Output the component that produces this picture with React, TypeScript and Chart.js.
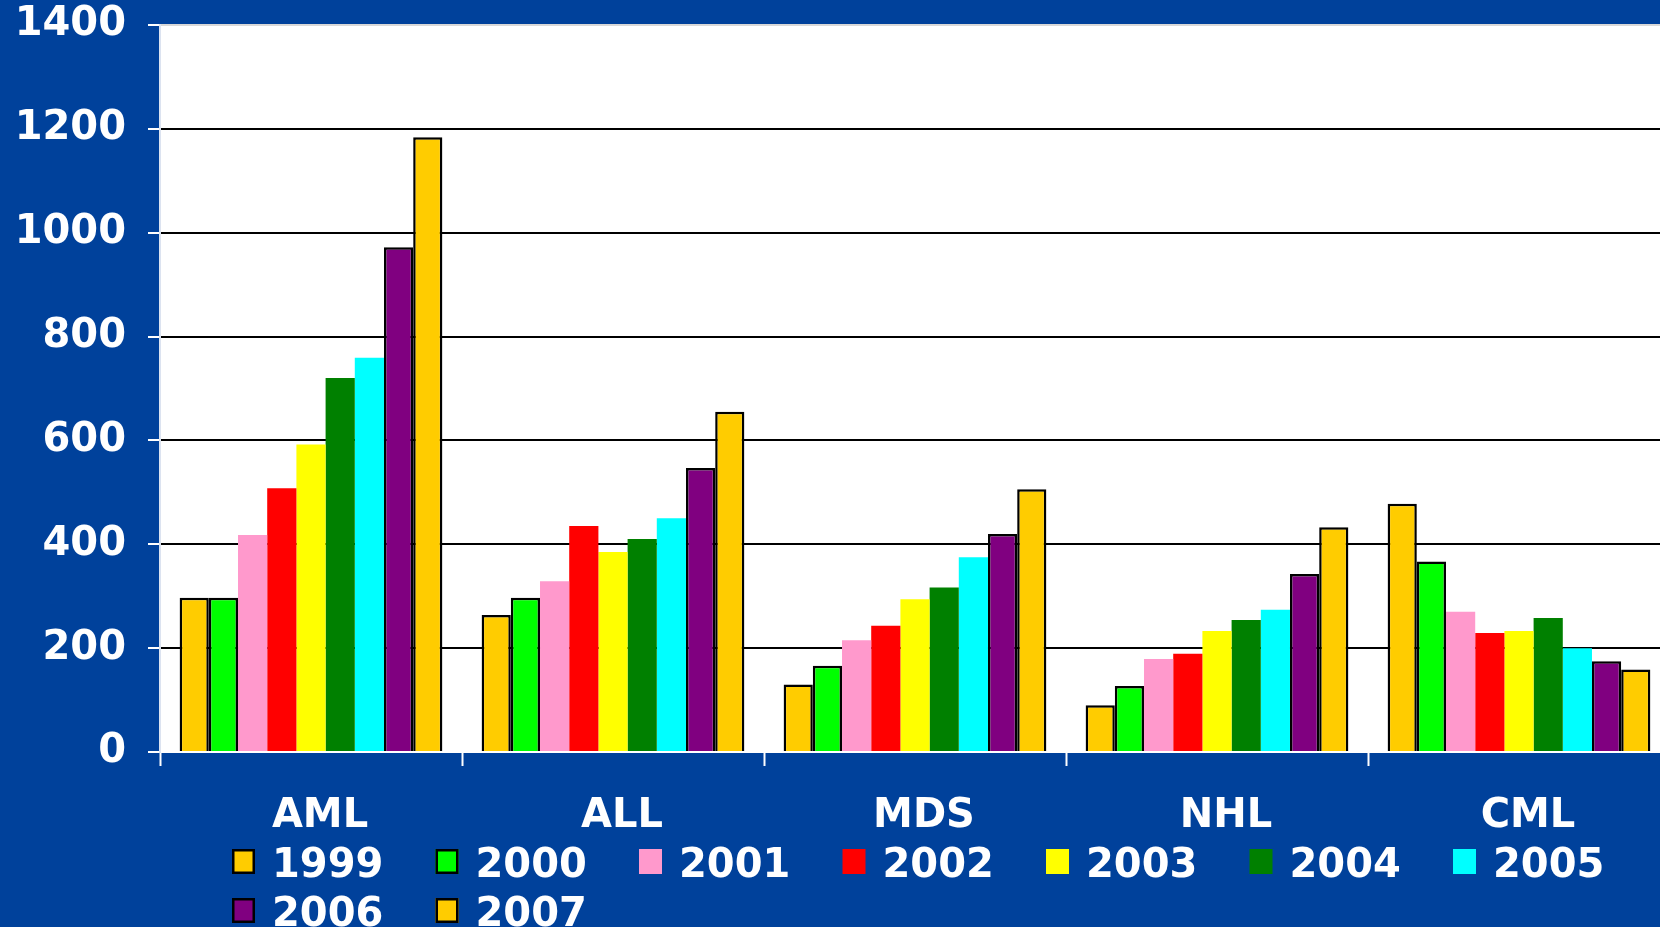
import React, { useEffect, useRef } from 'react';
import { Chart, registerables } from 'chart.js';

Chart.register(...registerables);

const categories = ['AML', 'ALL', 'MDS', 'NHL', 'CML'];
const years = ['1999', '2000', '2001', '2002', '2003', '2004', '2005', '2006', '2007'];

const v1999 = [297, 264, 130, 90, 478];
const v2000 = [297, 297, 166, 127, 367];
const v2001 = [418, 329, 215, 179, 270];
const v2002 = [508, 435, 243, 189, 229];
const v2003 = [592, 385, 294, 233, 233];
const v2004 = [720, 410, 317, 254, 258];
const v2005 = [759, 450, 375, 274, 200];
const v2006 = [972, 547, 420, 343, 175];
const v2007 = [1184, 655, 506, 433, 159];

const seriesValues = [v1999, v2000, v2001, v2002, v2003, v2004, v2005, v2006, v2007];
const seriesColors = ['#FFCC00', '#00FF00', '#FF99CC', '#FF0000', '#FFFF00', '#008000', '#00FFFF', '#800080', '#FFCC00'];
const seriesBordered = [true, true, false, false, false, false, false, true, true];

const yTicks = [0, 200, 400, 600, 800, 1000, 1200, 1400];

const NAVY = '#00419B';
const FONT = "'DejaVu Sans', Verdana, sans-serif";

const bgPlugin = {
  id: 'bgPlugin',
  beforeDraw(chart: any) {
    const { ctx, chartArea } = chart;
    ctx.save();
    ctx.fillStyle = NAVY;
    ctx.fillRect(0, 0, chart.width, chart.height);
    ctx.fillStyle = '#FFFFFF';
    ctx.fillRect(chartArea.left, chartArea.top, chartArea.right - chartArea.left, chartArea.bottom - chartArea.top);
    ctx.restore();
  },
};

const legendPlugin = {
  id: 'rowLegend',
  afterDraw(chart: any) {
    const { ctx, chartArea } = chart;
    const perRow = 7;
    const startX = chartArea.left + 72;
    const stepX = 203.5;
    const firstTop = chartArea.bottom + 97;
    const stepY = 49;
    const boxW = 23;
    const boxH = 25;
    ctx.save();
    chart.data.datasets.forEach((ds: any, i: number) => {
      const row = Math.floor(i / perRow);
      const col = i % perRow;
      const x = startX + col * stepX;
      const y = firstTop + row * stepY;
      ctx.fillStyle = ds.backgroundColor;
      ctx.fillRect(x, y, boxW, boxH);
      if (ds.borderWidth > 0) {
        ctx.strokeStyle = '#000';
        ctx.lineWidth = 2.5;
        ctx.strokeRect(x + 1.25, y + 1.25, boxW - 2.5, boxH - 2.5);
      }
      ctx.fillStyle = '#FFFFFF';
      ctx.font = `bold 40px ${FONT}`;
      ctx.textBaseline = 'alphabetic';
      ctx.textAlign = 'left';
      ctx.fillText(ds.label, x + 40, y + 28);
    });
    ctx.restore();
  },
};

export default function App() {
  const canvasRef = useRef<HTMLCanvasElement | null>(null);

  useEffect(() => {
    if (!canvasRef.current) return;
    const chart = new Chart(canvasRef.current, {
      type: 'bar',
      data: {
        labels: categories,
        datasets: years.map((y, i) => ({
          label: y,
          data: seriesValues[i],
          backgroundColor: seriesColors[i],
          borderColor: '#000000',
          borderWidth: seriesBordered[i] ? 2.5 : 0,
          categoryPercentage: 0.87,
          barPercentage: 1.0,
        })),
      },
      options: {
        animation: false,
        responsive: false,
        devicePixelRatio: 1,
        layout: { padding: { top: 25, bottom: 91, left: 0, right: 0 } },
        plugins: {
          legend: { display: false },
          tooltip: { enabled: false },
        },
        scales: {
          x: {
            type: 'category',
            afterFit: (scale: any) => {
              scale.height = 84;
            },
            grid: {
              offset: true,
              drawOnChartArea: false,
              drawTicks: true,
              tickLength: 14,
              tickColor: '#FFFFFF',
              tickWidth: 2,
            },
            border: { display: true, color: '#FFFFFF', width: 2 },
            ticks: {
              color: '#FFFFFF',
              font: { family: FONT, size: 40, weight: 'bold' },
              padding: 27,
              labelOffset: 9,
              maxRotation: 0,
              autoSkip: false,
            },
          },
          y: {
            min: 0,
            max: 1400,
            afterBuildTicks: (scale: any) => {
              scale.ticks = yTicks.map((v) => ({ value: v }));
            },
            afterFit: (scale: any) => {
              scale.width = 160;
              scale.paddingTop = 0;
              scale.paddingBottom = 0;
            },
            grid: {
              color: (c: any) => (c.tick && c.tick.value === 1400 ? '#D8D8D8' : c.tick && c.tick.value === 0 ? 'rgba(0,0,0,0)' : '#000000'),
              lineWidth: 2,
              tickLength: 12,
              tickColor: '#FFFFFF',
              tickWidth: 2,
            },
            border: { display: true, color: '#DCE3F0', width: 2 },
            ticks: {
              color: '#FFFFFF',
              font: { family: FONT, size: 40, weight: 'bold' },
              padding: 22,
              callback: (v: any) => String(v),
            },
          },
        },
      },
      plugins: [bgPlugin, legendPlugin],
    });
    return () => chart.destroy();
  }, []);

  return (
    <div style={{ position: 'absolute', left: 0, top: 0, width: 1660, height: 927, overflow: 'hidden', background: NAVY }}>
      <canvas ref={canvasRef} width={1670} height={927} style={{ display: 'block' }} />
    </div>
  );
}
